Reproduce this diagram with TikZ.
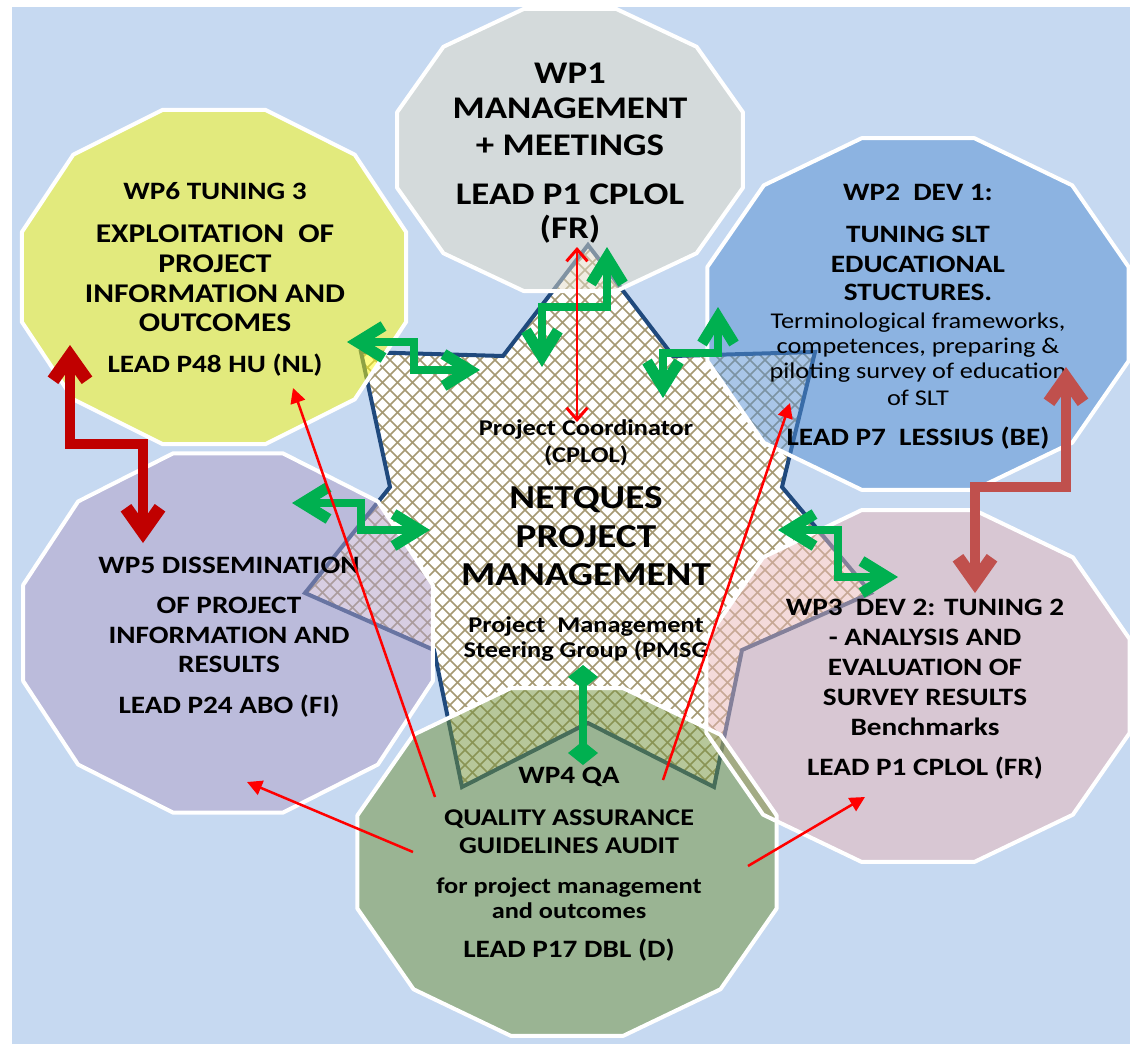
\documentclass[tikz,border=0pt]{standalone}
\usepackage{fontspec}
\setmainfont{Carlito}[FakeStretch=1.17]
\usetikzlibrary{arrows.meta,calc}
\definecolor{bgblue}{RGB}{198,217,241}
\definecolor{cwpa}{RGB}{226,219,199}
\definecolor{cwpf}{RGB}{254,251,11}
\definecolor{cwpb}{RGB}{84,143,211}
\definecolor{cwpe}{RGB}{178,159,199}
\definecolor{cwpc}{RGB}{234,183,183}
\definecolor{cwpd}{RGB}{112,145,55}
\definecolor{starline}{RGB}{31,73,125}
\definecolor{hatchc}{RGB}{165,153,115}
\definecolor{gcol}{RGB}{0,176,80}
\definecolor{dredc}{RGB}{192,0,0}
\definecolor{bredc}{RGB}{192,80,77}
\newcommand\ftA{\bfseries\fontsize{31.5pt}{36pt}\selectfont}
\newcommand\ftT{\bfseries\fontsize{25pt}{30pt}\selectfont}
\newcommand\ftE{\bfseries\fontsize{27pt}{30pt}\selectfont}
\newcommand\ftQ{\bfseries\fontsize{24pt}{28pt}\selectfont}
\newcommand\ftS{\fontsize{22.5pt}{25pt}\selectfont}
\newcommand\ftSb{\bfseries\fontsize{22.5pt}{25pt}\selectfont}
\newcommand\ftN{\bfseries\fontsize{33.5pt}{38pt}\selectfont}
\newcommand\wline[5]{\node[txt,font=#4] (#1) at (#2,#3) {#5};}
\newcommand\dodecfill[5]{\fill[#1,fill opacity=.5] plot[samples at={15,45,...,345}] ({#2+#4*cos(\x)},{#3+#5*sin(\x)}) -- cycle;}
\newcommand\dodecline[4]{\draw[white,line width=4pt,line join=round] plot[samples at={15,45,...,345}] ({#1+#3*cos(\x)},{#2+#4*sin(\x)}) -- cycle;}
\begin{document}
\begin{tikzpicture}[x=1pt,y=-1pt,
  txt/.style={anchor=base,inner sep=0pt,text=black},
  gz/.style={draw=gcol,line width=8pt,arrows={Straight Barb[length=26pt,width=32pt,line width=11pt 0]-Straight Barb[length=26pt,width=32pt,line width=11pt 0]}},
  dz/.style={line width=10pt,arrows={Straight Barb[length=24pt,width=34pt,line width=13pt 0]-Straight Barb[length=24pt,width=34pt,line width=13pt 0]}},
  rr/.style={draw=red,line width=2.5pt,arrows={-Triangle[length=15pt,width=15pt]}},
  rd/.style={draw=red,line width=2.5pt,arrows={Straight Barb[length=12pt,width=21pt,line width=3pt 0]-Straight Barb[length=12pt,width=21pt,line width=3pt 0]}},
  gd/.style={draw=gcol,line width=8pt,arrows={Diamond[length=24pt,width=30pt,line width=0pt]-Diamond[length=24pt,width=30pt,line width=0pt]}}]
\useasboundingbox (0,0) rectangle (1130,1044);
\fill[white] (0,0) rectangle (1130,1044);
\fill[bgblue] (12,7) rectangle (1130,1044);
% star coordinates
\coordinate (s0) at (588,245);
\coordinate (s1) at (673,356);
\coordinate (s2) at (815,352);
\coordinate (s3) at (782,487);
\coordinate (s4) at (871,593);
\coordinate (s5) at (742,650);
\coordinate (s6) at (714,787);
\coordinate (s7) at (588,723);
\coordinate (s8) at (462,787);
\coordinate (s9) at (434,650);
\coordinate (s10) at (305,593);
\coordinate (s11) at (390,487);
\coordinate (s12) at (361,352);
\coordinate (s13) at (503,356);
\fill[white] (s0)--(s1)--(s2)--(s3)--(s4)--(s5)--(s6)--(s7)--(s8)--(s9)--(s10)--(s11)--(s12)--(s13)--cycle;
\begin{scope}
\clip (s0)--(s1)--(s2)--(s3)--(s4)--(s5)--(s6)--(s7)--(s8)--(s9)--(s10)--(s11)--(s12)--(s13)--cycle;
\foreach \c in {-645,-630,...,510} \draw[hatchc,line width=1.5pt] (295,295+\c) -- (880,880+\c);
\foreach \c in {540,555,...,1680} \draw[hatchc,line width=1.5pt] (295,\c-295) -- (880,\c-880);
\end{scope}
\draw[starline,line width=4pt] (s0)--(s1)--(s2)--(s3)--(s4)--(s5)--(s6)--(s7)--(s8)--(s9)--(s10)--(s11)--(s12)--(s13)--cycle;
% work package dodecagons
\coordinate (wp1) at (570,150);
\coordinate (wp6) at (214,277);
\coordinate (wp2) at (918,314);
\coordinate (wp5) at (228,633);
\coordinate (wp3) at (918,686);
\coordinate (wp4) at (567,862);
\dodecfill{cwpa}{570}{150}{179}{146}
\dodecfill{cwpf}{214}{277}{199}{173}
\dodecfill{cwpb}{918}{314}{218}{182}
\dodecfill{cwpe}{228}{633}{212}{186}
\dodecfill{cwpc}{918}{686}{219}{182}
\dodecfill{cwpd}{567}{862}{217}{180}
\dodecline{570}{150}{179}{146}
\dodecline{214}{277}{199}{173}
\dodecline{918}{314}{218}{182}
\dodecline{228}{633}{212}{186}
\dodecline{918}{686}{219}{182}
\dodecline{567}{862}{217}{180}
% texts WP1
\wline{wpAa}{570}{83}{\ftA}{WP1}
\wline{wpAb}{570}{118}{\ftA}{MANAGEMENT}
\wline{wpAc}{570}{155}{\ftA}{+ MEETINGS}
\wline{wpAd}{570}{204}{\ftA}{LEAD P1 CPLOL}
\wline{wpAe}{570}{238}{\ftA}{(FR)}
% WP6
\wline{wpFa}{215}{199}{\ftT}{WP6 TUNING 3}
\wline{wpFb}{215}{242}{\ftE}{EXPLOITATION\ \ OF}
\wline{wpFc}{215}{272}{\ftE}{PROJECT}
\wline{wpFd}{215}{302}{\ftE}{INFORMATION AND}
\wline{wpFe}{215}{331}{\ftE}{OUTCOMES}
\wline{wpFf}{215}{372}{\ftT}{LEAD P48 HU (NL)}
% WP2
\wline{wpBa}{918}{200}{\ftT}{WP2\ \ DEV 1:}
\wline{wpBb}{918}{242}{\ftT}{TUNING SLT}
\wline{wpBc}{918}{272}{\ftT}{EDUCATIONAL}
\wline{wpBd}{918}{300}{\ftT}{STUCTURES.}
\wline{wpBe}{918}{328}{\ftS}{Terminological frameworks,}
\wline{wpBf}{918}{353}{\ftS}{competences, preparing \&}
\wline{wpBg}{918}{378}{\ftS}{piloting survey of education}
\wline{wpBh}{918}{405}{\ftS}{of SLT}
\wline{wpBi}{918}{445}{\ftT}{LEAD P7\ \ LESSIUS (BE)}
% WP5
\wline{wpEa}{229}{573}{\ftT}{WP5 DISSEMINATION}
\wline{wpEb}{229}{613}{\ftT}{OF PROJECT}
\wline{wpEc}{229}{643}{\ftT}{INFORMATION AND}
\wline{wpEd}{229}{672}{\ftT}{RESULTS}
\wline{wpEe}{229}{713}{\ftT}{LEAD P24 ABO (FI)}
% WP3
\wline{wpCa}{925}{615}{\ftT}{WP3\ \ DEV 2: TUNING 2}
\wline{wpCb}{925}{645}{\ftT}{- ANALYSIS AND}
\wline{wpCc}{925}{675}{\ftT}{EVALUATION OF}
\wline{wpCd}{925}{705}{\ftT}{SURVEY RESULTS}
\wline{wpCe}{925}{735}{\ftT}{Benchmarks}
\wline{wpCf}{925}{775}{\ftT}{LEAD P1 CPLOL (FR)}
% WP4
\wline{wpDa}{569}{783}{\ftT}{WP4 QA}
\wline{wpDb}{569}{825}{\ftQ}{QUALITY ASSURANCE}
\wline{wpDc}{569}{853}{\ftQ}{GUIDELINES AUDIT}
\wline{wpDd}{569}{893}{\ftSb}{for project management}
\wline{wpDe}{569}{918}{\ftSb}{and outcomes}
\wline{wpDf}{569}{957}{\ftT}{LEAD P17 DBL (D)}
% centre
\wline{pca}{586}{435}{\ftSb}{Project Coordinator}
\wline{pcb}{586}{462}{\ftSb}{(CPLOL)}
\wline{pcc}{586}{508}{\ftN}{NETQUES}
\wline{pcd}{586}{547}{\ftN}{PROJECT}
\wline{pce}{586}{585}{\ftN}{MANAGEMENT}
\wline{pcf}{586}{632}{\ftSb}{Project\ \ Management}
\wline{pcg}{586}{657}{\ftSb}{Steering Group (PMSG}
% arrow end points
\coordinate (g6a) at (347,342); \coordinate (g6b) at (480,370);
\coordinate (g5a) at (292,503); \coordinate (g5b) at (430,530);
\coordinate (g3a) at (778,530); \coordinate (g3b) at (898,577);
\coordinate (g1a) at (607,247); \coordinate (g1b) at (542,367);
\coordinate (g2a) at (718,307); \coordinate (g2b) at (663,398);
\coordinate (g4a) at (583,665); \coordinate (g4b) at (583,765);
\coordinate (r1a) at (577,247); \coordinate (r1b) at (577,422);
\coordinate (r6a) at (435,797); \coordinate (r6b) at (293,388);
\coordinate (r2a) at (663,780); \coordinate (r2b) at (790,403);
\coordinate (r5a) at (413,852); \coordinate (r5b) at (247,782);
\coordinate (r3a) at (748,866); \coordinate (r3b) at (865,797);
\coordinate (d5a) at (70,345); \coordinate (d5b) at (143,543);
\coordinate (d2a) at (1066,367); \coordinate (d2b) at (975,593);
% green connectors
\draw[gz] (g6a) -| ($(g6a)!.5!(g6b)$) |- (g6b);
\draw[gz] (g5a) -| ($(g5a)!.5!(g5b)$) |- (g5b);
\draw[gz] (g3a) -| ($(g3a)!.5!(g3b)$) |- (g3b);
\draw[gz] (g1a) |- ($(g1a)!.5!(g1b)$) -| (g1b);
\draw[gz] (g2a) |- ($(g2a)!.5!(g2b)$) -| (g2b);
\draw[gd] (g4a) -- (g4b);
% dark red connectors
\draw[dz,draw=dredc] (d5a) |- ($(d5a)!.5!(d5b)$) -| (d5b);
\draw[dz,draw=bredc] (d2a) |- ($(d2a)!.53!(d2b)$) -| (d2b);
% red connectors
\draw[rd] (r1a) -- (r1b);
\draw[rr] (r6a) -- (r6b);
\draw[rr] (r2a) -- (r2b);
\draw[rr] (r5a) -- (r5b);
\draw[rr] (r3a) -- (r3b);
\end{tikzpicture}
\end{document}
